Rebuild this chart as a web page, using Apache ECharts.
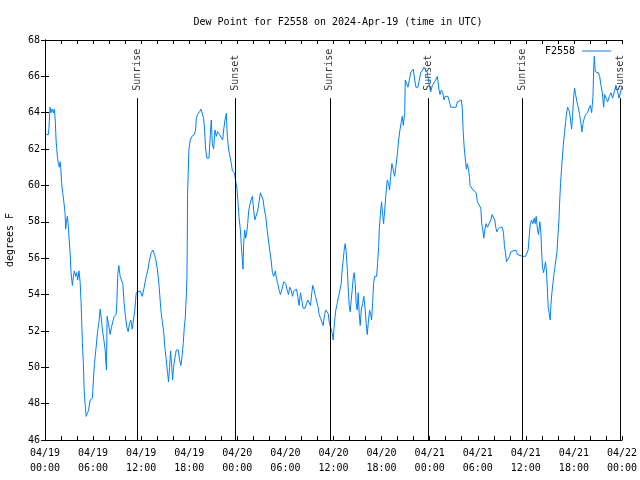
<!DOCTYPE html>
<html>
<head>
<meta charset="utf-8">
<script src="https://cdn.jsdelivr.net/npm/echarts@6/dist/echarts.min.js"></script>
<style>html,body{margin:0;padding:0;background:#fff}#c{width:640px;height:480px}</style>
</head>
<body>
<div id="c"></div>
<script>
// hours since 2024-04-19 00:00 UTC
var hours = [0.1,0.42,0.5,0.63,0.75,0.88,1.04,1.17,1.29,1.38,1.54,1.67,1.79,1.88,1.96,2.08,2.21,2.38,2.5,2.58,2.67,2.79,2.88,3.0,3.13,3.25,3.42,3.54,3.67,3.83,3.96,4.08,4.25,4.38,4.5,4.58,4.67,4.79,4.88,5.0,5.13,5.21,5.33,5.46,5.63,5.92,6.04,6.17,6.38,6.54,6.71,6.88,7.0,7.17,7.38,7.5,7.58,7.67,7.75,7.92,8.13,8.29,8.46,8.63,8.88,8.96,9.08,9.21,9.38,9.54,9.71,9.88,10.04,10.21,10.38,10.54,10.71,10.88,11.04,11.21,11.38,11.58,11.88,12.13,12.38,12.63,12.83,13.04,13.25,13.46,13.67,13.83,14.04,14.25,14.46,14.67,14.79,14.96,15.13,15.29,15.42,15.54,15.67,15.79,15.92,16.04,16.21,16.38,16.63,16.79,16.96,17.13,17.25,17.38,17.5,17.63,17.71,17.75,17.79,17.88,17.96,18.13,18.33,18.63,18.79,18.88,19.04,19.29,19.46,19.67,19.79,19.92,20.04,20.21,20.46,20.63,20.75,20.88,21.04,21.21,21.38,21.54,21.79,22.0,22.17,22.29,22.46,22.63,22.75,22.92,23.08,23.25,23.38,23.63,23.79,23.96,24.08,24.2,24.38,24.5,24.63,24.71,24.79,24.92,25.04,25.17,25.29,25.42,25.54,25.71,25.88,26.04,26.17,26.38,26.54,26.71,26.88,27.04,27.21,27.38,27.54,27.71,27.88,28.04,28.21,28.38,28.54,28.75,28.88,29.04,29.21,29.38,29.58,29.79,30.04,30.21,30.38,30.54,30.71,30.88,31.04,31.21,31.38,31.54,31.71,31.88,32.08,32.21,32.46,32.63,32.79,32.96,33.13,33.29,33.42,33.58,33.75,33.92,34.08,34.21,34.38,34.58,34.71,34.88,35.04,35.21,35.33,35.5,35.71,35.83,35.96,36.13,36.29,36.46,36.63,36.79,36.96,37.08,37.21,37.33,37.46,37.58,37.71,37.83,37.96,38.08,38.21,38.33,38.46,38.58,38.71,38.83,38.96,39.08,39.21,39.33,39.46,39.63,39.79,39.96,40.08,40.21,40.33,40.5,40.63,40.75,40.88,41.0,41.13,41.38,41.5,41.63,41.71,41.88,42.0,42.13,42.25,42.38,42.54,42.71,42.88,43.0,43.13,43.29,43.46,43.63,43.79,43.96,44.13,44.29,44.46,44.58,44.71,44.88,44.96,45.13,45.29,45.46,45.63,45.79,45.96,46.13,46.29,46.54,46.71,46.88,47.13,47.29,47.5,47.71,47.92,48.13,48.33,48.54,48.75,48.96,49.17,49.29,49.46,49.63,49.79,49.92,50.08,50.29,50.46,50.63,51.04,51.29,51.46,51.67,51.96,52.08,52.17,52.29,52.42,52.5,52.58,52.71,52.83,52.96,53.04,53.21,53.42,53.63,53.79,53.96,54.17,54.38,54.5,54.63,54.75,54.88,55.04,55.21,55.42,55.63,55.79,55.96,56.13,56.25,56.38,56.54,56.79,57.04,57.21,57.33,57.46,57.58,57.79,57.96,58.13,58.33,58.75,58.96,59.17,59.58,59.96,60.13,60.29,60.42,60.54,60.71,60.88,61.04,61.17,61.29,61.46,61.58,61.75,61.88,61.96,62.08,62.21,62.33,62.46,62.58,62.71,62.79,62.92,63.04,63.13,63.25,63.38,63.5,63.63,63.75,63.88,64.0,64.13,64.21,64.33,64.5,64.67,64.83,64.96,65.08,65.21,65.42,65.58,65.71,65.83,65.96,66.08,66.21,66.38,66.54,66.71,66.88,67.0,67.13,67.29,67.46,67.71,67.88,68.04,68.21,68.38,68.46,68.54,68.67,68.83,69.04,69.21,69.38,69.54,69.71,69.83,70.0,70.21,70.42,70.63,70.83,71.04,71.25,71.46,71.63,71.79,71.96];
var dewF = [62.8,62.8,63.2,64.3,64.0,64.2,64.0,64.2,63.5,62.5,61.6,61.2,61.0,61.3,61.0,60.1,59.6,59.0,58.5,57.6,58.0,58.3,57.9,57.9,56.3,55.2,54.5,55.0,55.3,55.0,55.2,54.8,55.3,54.7,53.6,52.5,51.3,50.2,48.8,48.0,47.3,47.2,47.5,47.7,48.2,48.3,49.3,50.2,51.1,51.9,52.4,53.2,52.8,52.05,52.0,51.0,50.4,49.85,52.8,52.4,51.8,52.2,52.5,52.8,52.9,53.5,55.1,55.6,55.0,54.9,54.6,53.5,52.8,52.2,51.96,52.4,52.6,52.1,52.6,53.15,54.1,54.2,54.2,53.9,54.4,55.0,55.35,55.9,56.3,56.45,56.2,55.9,55.35,54.4,53.15,52.4,52.05,51.1,50.4,49.7,49.2,50.0,50.9,50.2,49.3,50.0,50.5,50.95,50.95,50.4,50.1,50.7,51.3,52.2,52.7,53.9,55.0,56.6,59.5,60.85,62.0,62.5,62.7,62.8,63.05,63.7,63.9,64.05,64.2,64.2,63.7,63.05,62.0,61.5,61.5,62.8,63.6,62.3,62.0,63.05,62.7,62.96,62.8,62.7,62.5,63.05,63.6,63.97,62.7,61.95,61.6,61.2,60.8,60.7,60.7,59.8,59.1,58.3,57.55,56.7,55.9,55.4,56.8,57.55,57.1,57.4,57.9,58.6,58.9,59.2,59.4,58.65,58.1,58.1,58.6,59.1,59.6,59.65,59.2,58.65,58.3,57.6,57.0,56.45,55.9,55.2,55.0,55.3,54.9,54.6,54.25,54.0,54.3,54.7,54.6,54.25,54.0,54.4,54.25,53.9,54.2,54.25,54.3,53.9,53.4,54.1,53.6,53.25,53.25,53.5,53.7,53.8,53.4,54.1,54.5,54.25,53.9,53.8,53.3,52.9,52.7,52.8,52.3,52.9,53.15,53.25,52.95,52.4,52.1,51.9,51.5,52.5,53.15,53.5,53.9,54.2,54.6,55.35,55.9,56.45,56.8,56.35,55.5,54.4,53.4,53.05,53.7,54.25,54.9,55.2,54.6,53.5,53.15,54.1,52.95,52.3,53.15,53.5,53.9,53.15,52.4,51.8,52.4,53.15,52.9,52.6,53.5,54.6,55.0,55.0,55.7,56.6,57.55,58.6,59.1,58.4,57.9,58.6,59.5,60.3,60.1,59.75,60.5,61.2,60.85,60.5,61.05,61.7,62.5,63.05,63.5,63.8,63.3,63.97,65.8,65.7,65.4,65.8,66.2,66.2,66.4,65.8,65.4,65.4,65.8,66.2,66.35,66.5,66.6,66.2,65.6,65.15,65.5,65.6,65.8,66.0,65.25,65.0,65.25,65.1,64.7,64.9,65.0,64.9,64.6,64.3,64.3,64.3,64.6,64.7,64.7,64.15,63.1,62.2,62.1,61.2,60.9,61.2,60.9,60.5,60.0,59.9,59.75,59.65,59.6,59.1,59.0,58.75,57.9,57.55,57.1,57.55,57.9,57.7,57.7,58.1,58.4,58.4,58.1,57.7,57.45,57.6,57.7,57.7,57.4,56.7,56.3,55.8,55.8,56.1,56.35,56.45,56.45,56.2,56.1,56.1,56.1,56.2,56.45,57.2,57.8,58.1,57.9,58.2,57.9,58.3,57.55,57.3,58.0,57.4,56.45,55.5,55.2,55.5,55.8,55.2,54.1,53.3,52.95,52.6,53.4,54.1,54.6,55.1,55.5,55.9,56.3,57.2,58.1,59.0,60.1,61.2,62.2,62.9,63.5,63.97,64.3,64.1,63.6,63.1,63.8,64.8,65.35,65.0,64.6,64.3,63.9,63.4,62.95,63.4,63.7,63.9,64.0,64.25,64.4,64.0,64.9,66.35,67.1,66.25,66.2,66.2,66.0,65.5,65.1,64.3,65.0,64.9,64.6,64.9,65.1,64.8,65.15,65.5,65.15,64.8,65.1,65.4];
var sunTimes = [11.55, 23.8, 35.55, 47.8, 59.55, 71.8];
var sunNames = ['Sunrise', 'Sunset', 'Sunrise', 'Sunset', 'Sunrise', 'Sunset'];
var yTicks = [46, 48, 50, 52, 54, 56, 58, 60, 62, 64, 66, 68];

var FONT = 'DejaVu Sans Mono';
var Y_MIN = yTicks[0], Y_MAX = yTicks[yTicks.length - 1];
var LINE_TOP = 64.8, LABEL_BASE = 65.15;

function pad(n){ return (n < 10 ? '0' : '') + n; }
function xLabel(v){
  var day = 19 + Math.floor(v / 24);
  var hh = Math.round(v % 24);
  return '04/' + pad(day) + '\n' + pad(hh) + ':00';
}

var chart = echarts.init(document.getElementById('c'), null, {renderer: 'canvas'});
var axisLine = {show: true, lineStyle: {color: '#000', width: 1}};
var tick = {show: true, inside: true, length: 4, lineStyle: {color: '#000'}};
var minor = {show: true, splitNumber: 3, length: 4, lineStyle: {color: '#000'}};

chart.setOption({
  animation: false,
  backgroundColor: '#fff',
  title: {
    text: 'Dew Point for F2558 on 2024-Apr-19 (time in UTC)',
    left: 333, top: 12, textAlign: 'center',
    textStyle: {fontFamily: FONT, fontSize: 10, fontWeight: 'normal', color: '#000'}
  },
  legend: {
    data: [{name: 'F2558', icon: 'rect'}], orient: 'horizontal', left: 540, top: 41,
    align: 'right',
    itemWidth: 29, itemHeight: 1, itemGap: 8,
    textStyle: {fontFamily: FONT, fontSize: 10, color: '#000', padding: [0, 2, 0, 0]}
  },
  grid: {left: 45, right: 18, top: 40, bottom: 40, containLabel: false, outerBoundsMode: 'none'},
  xAxis: [{
    type: 'value', min: 0, max: 72, interval: 6,
    axisLine: axisLine, axisTick: tick, minorTick: minor, splitLine: {show: false},
    axisLabel: {formatter: xLabel, fontFamily: FONT, fontSize: 10, color: '#000', lineHeight: 15, margin: 6}
  }, {
    type: 'value', position: 'top', min: 0, max: 72, interval: 6,
    axisLine: axisLine, axisTick: tick, minorTick: minor, splitLine: {show: false},
    axisLabel: {show: false}
  }],
  yAxis: [{
    type: 'value', min: Y_MIN, max: Y_MAX, interval: 2,
    name: 'degrees F', nameLocation: 'middle', nameGap: 30,
    nameTextStyle: {fontFamily: FONT, fontSize: 10, color: '#000'},
    axisLine: axisLine, axisTick: tick, splitLine: {show: false},
    axisLabel: {fontFamily: FONT, fontSize: 10, color: '#000', margin: 5}
  }, {
    type: 'value', position: 'right', min: Y_MIN, max: Y_MAX, interval: 2,
    axisLine: axisLine, axisTick: tick, splitLine: {show: false},
    axisLabel: {show: false}
  }],
  series: [{
    name: 'F2558', type: 'line', symbol: 'none', showSymbol: false,
    data: hours.map(function(h, i){ return [h, dewF[i]]; }),
    lineStyle: {color: '#0080ff', width: 1},
    itemStyle: {color: '#0080ff'},
    z: 3,
    markLine: {
      silent: true, symbol: ['none', 'none'], animation: false,
      label: {show: false},
      lineStyle: {color: '#000', width: 1, type: 'solid'},
      data: sunTimes.map(function(t){ return [{coord: [t, Y_MIN]}, {coord: [t, LINE_TOP]}]; })
    }
  }, {
    name: 'sun', type: 'scatter', symbolSize: 0, silent: true,
    data: sunTimes.map(function(t, i){ return {value: [t, LABEL_BASE], name: sunNames[i]}; }),
    label: {
      show: true, position: 'inside', rotate: 90, align: 'left', verticalAlign: 'middle',
      offset: [1, 0],
      formatter: function(p){ return p.name; },
      fontFamily: FONT, fontSize: 10, color: '#000'
    }
  }]
});
</script>
</body>
</html>
